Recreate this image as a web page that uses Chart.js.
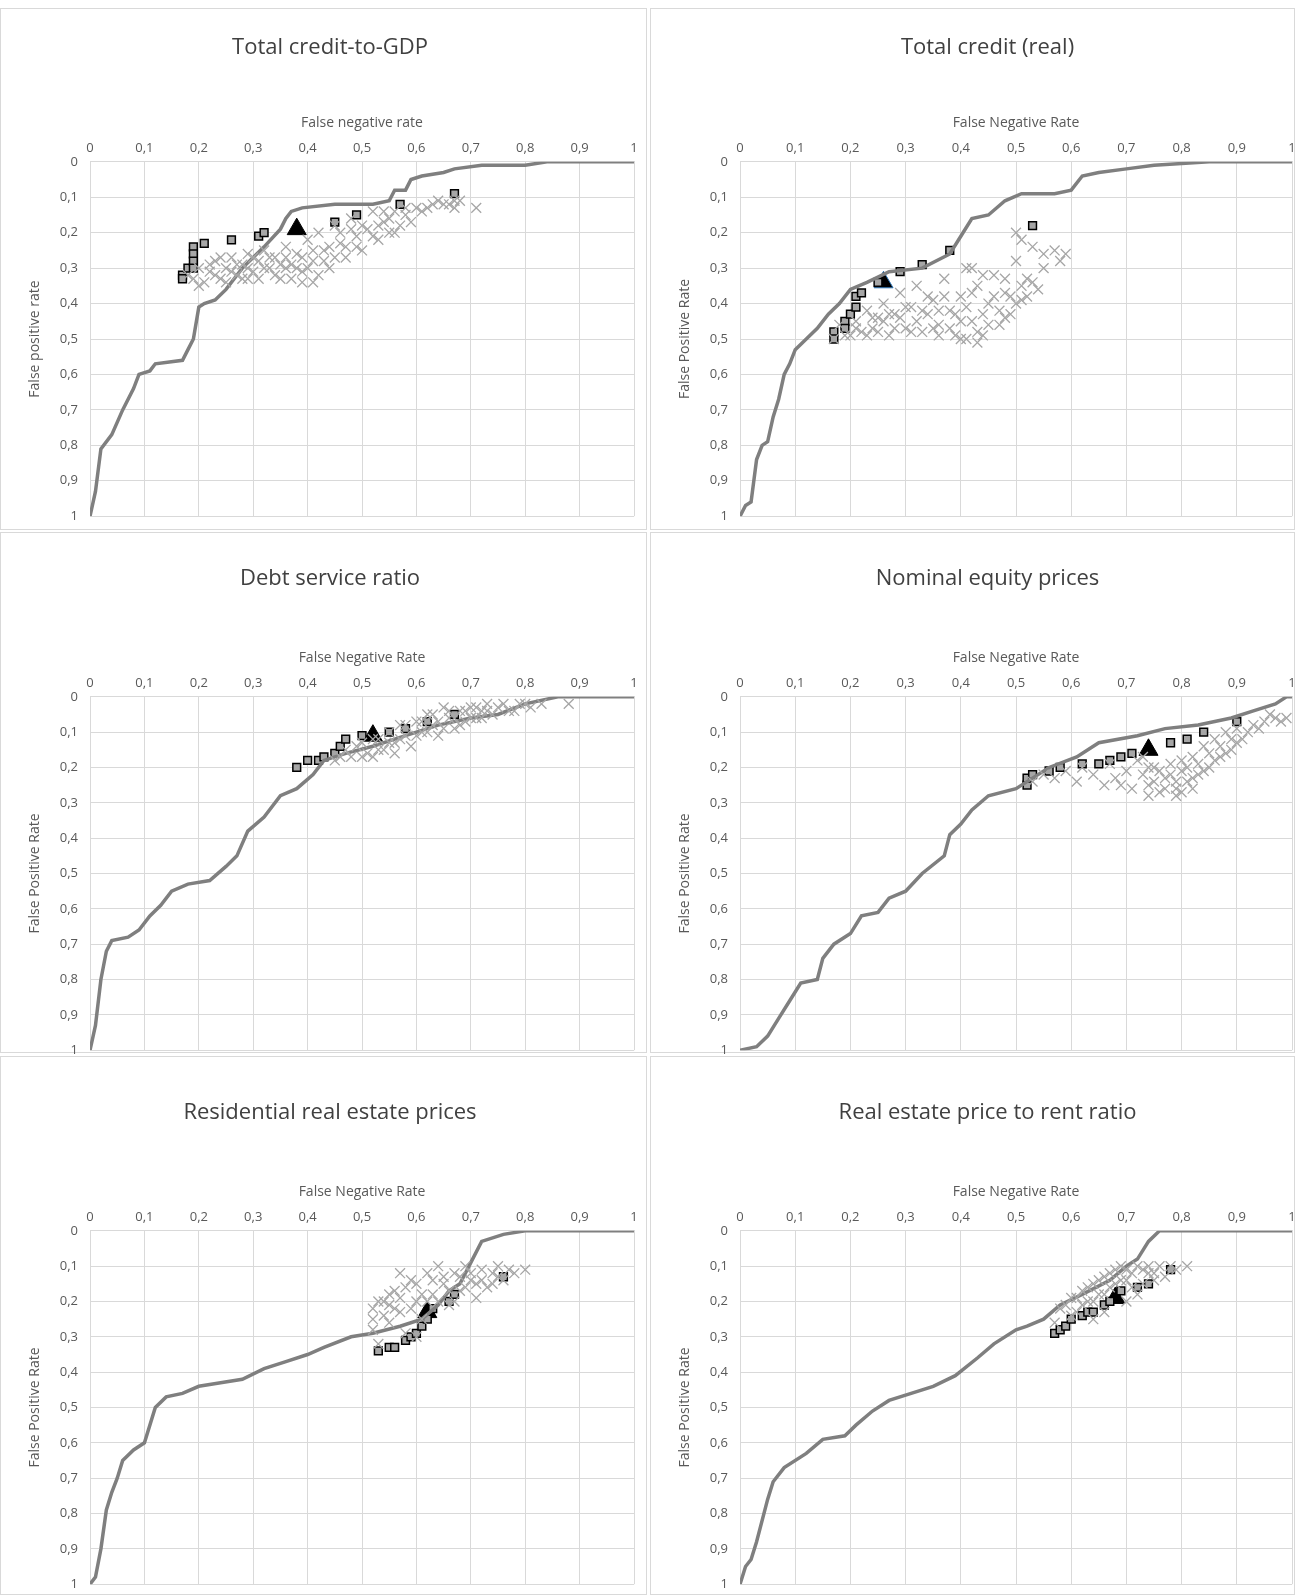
<!DOCTYPE html>
<html><head><meta charset="utf-8">
<script src="https://cdn.jsdelivr.net/npm/chart.js@4"></script>
<style>
body{margin:0;background:#fff;width:1300px;height:1595px;position:relative;overflow:hidden;font-family:Lato,"Open Sans",sans-serif}
.p{position:absolute;border:1px solid #d9d9d9;box-sizing:border-box;overflow:visible}
.p canvas{position:absolute;left:0;top:0}
</style></head><body>
<div class="p" style="left:0;top:8px;width:647px;height:522px"><canvas id="c0"></canvas></div>
<div class="p" style="left:650px;top:8px;width:645px;height:522px"><canvas id="c1"></canvas></div>
<div class="p" style="left:0;top:532px;width:647px;height:521px"><canvas id="c2"></canvas></div>
<div class="p" style="left:650px;top:532px;width:645px;height:521px"><canvas id="c3"></canvas></div>
<div class="p" style="left:0;top:1056px;width:647px;height:539px"><canvas id="c4"></canvas></div>
<div class="p" style="left:650px;top:1056px;width:645px;height:539px"><canvas id="c5"></canvas></div>
<script>
const titles=["Total credit-to-GDP","Total credit (real)","Debt service ratio","Nominal equity prices","Residential real estate prices","Real estate price to rent ratio"];
const xTitles=["False negative rate","False Negative Rate","False Negative Rate","False Negative Rate","False Negative Rate","False Negative Rate"];
const yTitles=["False positive rate","False Positive Rate","False Positive Rate","False Positive Rate","False Positive Rate","False Positive Rate"];

const curve0=[[0,1],[0.01,0.93],[0.02,0.81],[0.04,0.77],[0.06,0.7],[0.08,0.64],[0.09,0.6],[0.11,0.59],[0.12,0.57],[0.17,0.56],[0.18,0.53],[0.19,0.5],[0.2,0.41],[0.21,0.4],[0.23,0.39],[0.25,0.36],[0.28,0.3],[0.32,0.24],[0.35,0.19],[0.36,0.16],[0.37,0.14],[0.39,0.13],[0.45,0.12],[0.52,0.12],[0.55,0.11],[0.56,0.08],[0.58,0.08],[0.59,0.05],[0.61,0.04],[0.65,0.03],[0.67,0.02],[0.72,0.01],[0.8,0.01],[0.84,0],[1,0]];
const curve1=[[0,1],[0.01,0.97],[0.02,0.96],[0.03,0.84],[0.04,0.8],[0.05,0.79],[0.06,0.72],[0.07,0.67],[0.08,0.6],[0.09,0.57],[0.1,0.53],[0.12,0.5],[0.14,0.47],[0.16,0.43],[0.18,0.4],[0.2,0.36],[0.23,0.34],[0.27,0.31],[0.33,0.3],[0.38,0.26],[0.4,0.21],[0.42,0.16],[0.45,0.15],[0.48,0.11],[0.51,0.09],[0.57,0.09],[0.6,0.08],[0.62,0.04],[0.65,0.03],[0.7,0.02],[0.75,0.01],[0.85,0],[1,0]];
const curve2=[[0,1],[0.01,0.93],[0.02,0.8],[0.03,0.72],[0.04,0.69],[0.07,0.68],[0.09,0.66],[0.11,0.62],[0.13,0.59],[0.15,0.55],[0.18,0.53],[0.22,0.52],[0.25,0.48],[0.27,0.45],[0.29,0.38],[0.32,0.34],[0.35,0.28],[0.38,0.26],[0.41,0.22],[0.43,0.18],[0.47,0.16],[0.52,0.14],[0.56,0.12],[0.6,0.1],[0.64,0.08],[0.7,0.06],[0.75,0.05],[0.8,0.02],[0.86,0],[1,0]];
const curve3=[[0,1],[0.03,0.99],[0.05,0.96],[0.07,0.91],[0.09,0.86],[0.11,0.81],[0.14,0.8],[0.15,0.74],[0.17,0.7],[0.2,0.67],[0.22,0.62],[0.25,0.61],[0.27,0.57],[0.3,0.55],[0.33,0.5],[0.37,0.45],[0.38,0.39],[0.4,0.36],[0.42,0.32],[0.45,0.28],[0.5,0.26],[0.52,0.24],[0.56,0.2],[0.61,0.17],[0.65,0.13],[0.72,0.11],[0.77,0.09],[0.83,0.08],[0.89,0.06],[0.93,0.04],[0.97,0.02],[0.99,0],[1,0]];
const curve4=[[0,1],[0.01,0.98],[0.02,0.9],[0.03,0.79],[0.04,0.74],[0.05,0.7],[0.06,0.65],[0.08,0.62],[0.1,0.6],[0.12,0.5],[0.14,0.47],[0.17,0.46],[0.2,0.44],[0.24,0.43],[0.28,0.42],[0.32,0.39],[0.36,0.37],[0.4,0.35],[0.43,0.33],[0.48,0.3],[0.52,0.29],[0.57,0.27],[0.61,0.25],[0.64,0.21],[0.66,0.17],[0.68,0.15],[0.7,0.09],[0.72,0.03],[0.76,0.01],[0.8,0],[1,0]];
const curve5=[[0,1],[0.01,0.95],[0.02,0.93],[0.03,0.88],[0.05,0.76],[0.06,0.71],[0.08,0.67],[0.12,0.63],[0.15,0.59],[0.19,0.58],[0.21,0.55],[0.24,0.51],[0.27,0.48],[0.31,0.46],[0.35,0.44],[0.39,0.41],[0.43,0.36],[0.46,0.32],[0.5,0.28],[0.52,0.27],[0.55,0.25],[0.58,0.21],[0.62,0.18],[0.67,0.14],[0.7,0.1],[0.72,0.08],[0.74,0.03],[0.76,0],[1,0]];

const cross0=[[0.18,0.32],[0.2,0.3],[0.21,0.34],[0.22,0.31],[0.23,0.28],[0.24,0.33],[0.25,0.3],[0.26,0.27],[0.27,0.32],[0.28,0.29],[0.29,0.26],[0.3,0.31],[0.31,0.28],[0.32,0.25],[0.33,0.3],[0.34,0.27],[0.35,0.33],[0.36,0.24],[0.37,0.29],[0.38,0.26],[0.39,0.31],[0.4,0.22],[0.41,0.28],[0.41,0.34],[0.42,0.2],[0.43,0.25],[0.44,0.3],[0.45,0.18],[0.46,0.23],[0.47,0.27],[0.48,0.16],[0.49,0.21],[0.5,0.25],[0.51,0.19],[0.52,0.14],[0.53,0.22],[0.54,0.17],[0.55,0.2],[0.56,0.14],[0.57,0.18],[0.58,0.15],[0.6,0.13],[0.63,0.12],[0.64,0.11],[0.65,0.12],[0.67,0.13],[0.68,0.11],[0.71,0.13],[0.36,0.3],[0.39,0.34],[0.29,0.33],
[0.19,0.33],[0.2,0.35],[0.22,0.29],[0.23,0.32],[0.24,0.27],[0.25,0.34],[0.26,0.31],[0.27,0.29],[0.28,0.33],[0.29,0.3],[0.3,0.27],[0.31,0.33],[0.32,0.3],[0.33,0.27],[0.34,0.32],[0.35,0.29],[0.36,0.27],[0.37,0.33],[0.38,0.3],[0.39,0.27],[0.4,0.3],[0.41,0.25],[0.42,0.32],[0.43,0.28],[0.44,0.24],[0.45,0.27],[0.46,0.2],[0.47,0.24],[0.48,0.19],[0.49,0.24],[0.5,0.18],[0.52,0.21],[0.53,0.18],[0.54,0.14],[0.55,0.16],[0.56,0.2],[0.58,0.13],[0.59,0.17],[0.61,0.14],[0.62,0.13],[0.66,0.12],[0.67,0.11]];
const cross1=[[0.17,0.5],[0.18,0.46],[0.2,0.49],[0.21,0.45],[0.22,0.48],[0.23,0.42],[0.24,0.47],[0.25,0.44],[0.26,0.4],[0.27,0.49],[0.28,0.43],[0.29,0.37],[0.3,0.47],[0.31,0.41],[0.32,0.35],[0.33,0.48],[0.34,0.43],[0.35,0.39],[0.36,0.46],[0.37,0.33],[0.38,0.42],[0.39,0.49],[0.4,0.38],[0.41,0.3],[0.42,0.45],[0.43,0.35],[0.44,0.49],[0.45,0.4],[0.46,0.32],[0.47,0.46],[0.48,0.37],[0.49,0.43],[0.5,0.28],[0.51,0.39],[0.52,0.33],[0.53,0.24],[0.54,0.36],[0.55,0.3],[0.5,0.2],[0.51,0.22],[0.55,0.26],[0.57,0.25],[0.58,0.28],[0.59,0.26],[0.53,0.34],[0.41,0.5],[0.36,0.49],
[0.19,0.49],[0.21,0.47],[0.23,0.49],[0.24,0.44],[0.25,0.48],[0.26,0.45],[0.27,0.43],[0.28,0.47],[0.29,0.44],[0.3,0.41],[0.31,0.48],[0.32,0.45],[0.33,0.42],[0.34,0.38],[0.35,0.47],[0.36,0.42],[0.37,0.38],[0.38,0.47],[0.39,0.43],[0.4,0.45],[0.41,0.41],[0.42,0.37],[0.43,0.48],[0.44,0.43],[0.45,0.46],[0.46,0.38],[0.47,0.42],[0.48,0.44],[0.49,0.38],[0.5,0.4],[0.51,0.35],[0.52,0.38],[0.42,0.3],[0.44,0.32],[0.48,0.33],[0.4,0.5],[0.43,0.51]];
const cross2=[[0.45,0.18],[0.47,0.15],[0.48,0.17],[0.5,0.13],[0.51,0.16],[0.53,0.12],[0.54,0.15],[0.55,0.1],[0.56,0.13],[0.57,0.08],[0.58,0.11],[0.59,0.14],[0.6,0.07],[0.61,0.1],[0.62,0.05],[0.63,0.08],[0.64,0.11],[0.65,0.03],[0.66,0.06],[0.67,0.09],[0.68,0.04],[0.69,0.07],[0.7,0.03],[0.71,0.06],[0.72,0.04],[0.73,0.02],[0.74,0.05],[0.75,0.03],[0.77,0.04],[0.79,0.02],[0.81,0.03],[0.83,0.02],[0.88,0.02],[0.52,0.17],[0.56,0.16],
[0.46,0.17],[0.49,0.14],[0.5,0.17],[0.52,0.12],[0.53,0.15],[0.55,0.13],[0.57,0.12],[0.58,0.08],[0.6,0.11],[0.61,0.07],[0.62,0.1],[0.63,0.05],[0.64,0.07],[0.65,0.09],[0.66,0.04],[0.67,0.06],[0.68,0.08],[0.69,0.04],[0.7,0.06],[0.71,0.03],[0.72,0.06],[0.73,0.04],[0.76,0.02],[0.78,0.04],[0.8,0.02]];
const cross3=[[0.53,0.24],[0.55,0.22],[0.57,0.23],[0.59,0.21],[0.61,0.24],[0.62,0.2],[0.64,0.22],[0.66,0.25],[0.67,0.19],[0.68,0.23],[0.7,0.21],[0.71,0.26],[0.72,0.18],[0.73,0.22],[0.74,0.25],[0.75,0.2],[0.76,0.27],[0.77,0.23],[0.78,0.19],[0.79,0.26],[0.8,0.21],[0.81,0.24],[0.82,0.17],[0.83,0.22],[0.84,0.14],[0.85,0.2],[0.86,0.12],[0.87,0.17],[0.88,0.1],[0.89,0.15],[0.9,0.09],[0.91,0.12],[0.93,0.08],[0.95,0.07],[0.97,0.06],[0.99,0.06],[0.96,0.05],[0.69,0.25],[0.8,0.27],
[0.73,0.17],[0.74,0.2],[0.75,0.24],[0.76,0.21],[0.77,0.26],[0.78,0.22],[0.79,0.24],[0.8,0.18],[0.81,0.2],[0.82,0.23],[0.83,0.19],[0.84,0.21],[0.85,0.16],[0.86,0.18],[0.87,0.14],[0.88,0.16],[0.89,0.12],[0.9,0.13],[0.92,0.1],[0.94,0.09],[0.98,0.07],[0.74,0.28],[0.79,0.28],[0.82,0.26]];
const cross4=[[0.52,0.22],[0.52,0.28],[0.53,0.32],[0.54,0.2],[0.55,0.26],[0.56,0.17],[0.57,0.23],[0.58,0.29],[0.59,0.14],[0.6,0.2],[0.61,0.25],[0.62,0.12],[0.63,0.18],[0.64,0.1],[0.65,0.15],[0.66,0.21],[0.67,0.12],[0.68,0.17],[0.69,0.1],[0.7,0.14],[0.71,0.19],[0.72,0.11],[0.73,0.16],[0.74,0.12],[0.75,0.1],[0.76,0.14],[0.77,0.11],[0.78,0.12],[0.8,0.11],[0.57,0.12],[0.55,0.21],[0.6,0.3],
[0.52,0.25],[0.53,0.2],[0.54,0.24],[0.55,0.18],[0.56,0.22],[0.57,0.19],[0.58,0.16],[0.59,0.22],[0.6,0.15],[0.61,0.18],[0.62,0.2],[0.63,0.14],[0.64,0.2],[0.65,0.13],[0.66,0.17],[0.67,0.2],[0.68,0.13],[0.69,0.16],[0.7,0.12],[0.71,0.15],[0.72,0.14],[0.74,0.15],[0.75,0.13]];
const cross5=[[0.57,0.26],[0.58,0.22],[0.6,0.24],[0.61,0.19],[0.62,0.21],[0.63,0.16],[0.64,0.2],[0.65,0.14],[0.66,0.18],[0.67,0.12],[0.68,0.15],[0.69,0.1],[0.7,0.14],[0.71,0.12],[0.72,0.1],[0.73,0.15],[0.74,0.12],[0.75,0.14],[0.76,0.1],[0.77,0.13],[0.79,0.11],[0.81,0.1],[0.64,0.25],[0.66,0.23],[0.7,0.2],[0.72,0.18],
[0.59,0.21],[0.6,0.19],[0.61,0.23],[0.62,0.17],[0.63,0.2],[0.64,0.15],[0.65,0.18],[0.66,0.13],[0.67,0.16],[0.68,0.11],[0.69,0.14],[0.7,0.11],[0.71,0.16],[0.73,0.11],[0.74,0.1],[0.75,0.12],[0.78,0.1]];

const sq0=[[0.17,0.32],[0.17,0.33],[0.18,0.3],[0.19,0.24],[0.19,0.26],[0.19,0.28],[0.19,0.3],[0.21,0.23],[0.26,0.22],[0.31,0.21],[0.32,0.2],[0.45,0.17],[0.49,0.15],[0.57,0.12],[0.67,0.09]];
const sq1=[[0.17,0.48],[0.17,0.5],[0.19,0.45],[0.19,0.47],[0.2,0.43],[0.21,0.38],[0.21,0.41],[0.22,0.37],[0.25,0.34],[0.29,0.31],[0.33,0.29],[0.38,0.25],[0.53,0.18]];
const sq2=[[0.38,0.2],[0.4,0.18],[0.42,0.18],[0.43,0.17],[0.45,0.16],[0.46,0.14],[0.47,0.12],[0.5,0.11],[0.55,0.1],[0.58,0.09],[0.62,0.07],[0.67,0.05]];
const sq3=[[0.52,0.25],[0.52,0.23],[0.53,0.22],[0.56,0.21],[0.58,0.2],[0.62,0.19],[0.65,0.19],[0.67,0.18],[0.69,0.17],[0.71,0.16],[0.78,0.13],[0.81,0.12],[0.84,0.1],[0.9,0.07]];
const sq4=[[0.53,0.34],[0.55,0.33],[0.56,0.33],[0.58,0.31],[0.59,0.3],[0.6,0.29],[0.61,0.27],[0.62,0.25],[0.63,0.22],[0.66,0.2],[0.67,0.18],[0.76,0.13]];
const sq5=[[0.57,0.29],[0.58,0.28],[0.59,0.27],[0.6,0.25],[0.62,0.24],[0.63,0.23],[0.64,0.23],[0.66,0.21],[0.67,0.2],[0.69,0.17],[0.72,0.16],[0.74,0.15],[0.78,0.11]];
const tri=[[0.38,0.19],[0.26,0.34],[0.52,0.11],[0.74,0.15],[0.62,0.23],[0.68,0.19]];

const curves=[curve0,curve1,curve2,curve3,curve4,curve5];
const crosses=[cross0,cross1,cross2,cross3,cross4,cross5];
const squares=[sq0,sq1,sq2,sq3,sq4,sq5];
const xy=a=>a.map(p=>({x:p[0],y:p[1]}));
const fmt=v=>(Math.round(v*10)/10).toString().replace('.',',');
const font="'Open Sans', sans-serif";
const canvasH=[527,527,537,537,547,547];
const canvasW=[645,653,645,653,645,653];
const titleTop=[26,26,33,33,43,43];
const titleBot=[49,49,53,53,53,53];
const rightPad=[9,2,9,2,9,2];

for(let i=0;i<6;i++){
  const el=document.getElementById('c'+i);
  el.width=canvasW[i]; el.height=canvasH[i];
  el.style.width=el.width+'px'; el.style.height=el.height+'px';
  new Chart(el,{type:'scatter',
    data:{datasets:[
      {data:xy(crosses[i]),pointStyle:'crossRot',radius:7,borderColor:'#a6a6a6',borderWidth:1.3,backgroundColor:'#a6a6a6'},
      {type:'line',data:xy(curves[i]),borderColor:'#7f7f7f',borderWidth:3.5,pointRadius:0,fill:false,tension:0},
      {data:xy(squares[i]),pointStyle:'rect',radius:5.5,borderColor:'#000',borderWidth:1.5,backgroundColor:'#a6a6a6'},
      {data:xy([tri[i]]),pointStyle:'triangle',radius:11,borderColor:i==1?'#2e75b6':'#000',borderWidth:1,backgroundColor:'#000'}
    ]},
    options:{responsive:false,animation:false,
      layout:{padding:{left:22,right:rightPad[i],top:0,bottom:0}},
      plugins:{legend:{display:false},tooltip:{enabled:false},
        title:{display:true,text:titles[i],color:'#404040',font:{family:font,size:22,weight:'normal'},padding:{top:titleTop[i],bottom:titleBot[i]}}},
      scales:{
        x:{type:'linear',position:'top',min:0,max:1,ticks:{stepSize:0.1,callback:fmt,color:'#595959',font:{family:font,size:13},padding:6},
          grid:{color:'#d9d9d9',drawTicks:false},border:{color:'#d9d9d9'},
          title:{display:true,text:xTitles[i],color:'#595959',font:{family:font,size:14},padding:{bottom:3}}},
        y:{type:'linear',reverse:true,min:0,max:1,ticks:{stepSize:0.1,callback:fmt,color:'#595959',font:{family:font,size:13},padding:12},
          grid:{color:'#d9d9d9',drawTicks:false},border:{display:false},
          title:{display:true,text:yTitles[i],color:'#595959',font:{family:font,size:14}}}
      }}});
}
</script></body></html>
